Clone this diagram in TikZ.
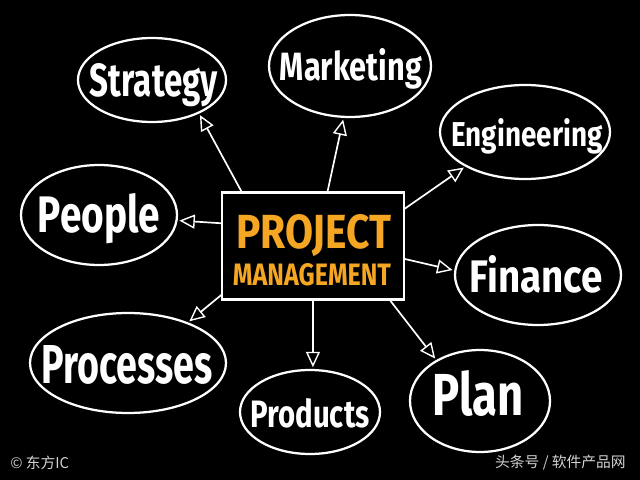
\documentclass[tikz,border=0pt]{standalone}
\usepackage{fontspec}
\usepackage{graphicx}
\usetikzlibrary{arrows.meta, shapes.geometric, positioning}
\newfontfamily\hand{Fira Sans}
\newfontfamily\cjk{Noto Sans CJK SC}
\definecolor{pmorange}{HTML}{F5A623}
\definecolor{markgray}{HTML}{D2D2D2}
\newlength\pxu
\setlength\pxu{0.025cm}
\newcommand\handword[3]{\resizebox{#1\pxu}{#2\pxu}{\hand\bfseries #3}}

\begin{document}
\begin{tikzpicture}[x=0.025cm, y=-0.025cm,
  bubble/.style={ellipse, draw=white, line width=1.6pt, inner sep=0pt, outer sep=0pt},
  word/.style={text=white, inner sep=0pt, anchor=base},
  arr/.style={white, line width=1.2pt, -{Triangle[open, length=11pt, width=10pt, line width=1pt]}, shorten >=2pt},
  watermark/.style={text=markgray, inner sep=0pt, font=\cjk\fontsize{10.5}{12}\selectfont}]
  \path[fill=black] (0,0) rectangle (640,480);

  \node[draw=white, line width=1.5pt, minimum width=182\pxu, minimum height=107\pxu, inner sep=0pt, outer sep=0pt] (pm) at (313,246) {};
  \node[word, text=pmorange] (pm-1) at (314,248) {\handword{155}{34}{PROJECT}};
  \node[word, text=pmorange] (pm-2) at (312,285) {\handword{158}{22}{MANAGEMENT}};

  \node[bubble, minimum width=148\pxu, minimum height=84\pxu] (strat) at (152,80) {};
  \node[bubble, minimum width=162\pxu, minimum height=102\pxu] (mkt) at (350,66) {};
  \node[bubble, minimum width=170\pxu, minimum height=94\pxu] (eng) at (525,132) {};
  \node[bubble, minimum width=156\pxu, minimum height=100\pxu] (ppl) at (99,215) {};
  \node[bubble, minimum width=166\pxu, minimum height=100\pxu] (fin) at (538,275) {};
  \node[bubble, minimum width=196\pxu, minimum height=100\pxu] (proc) at (128,363) {};
  \node[bubble, minimum width=140\pxu, minimum height=84\pxu] (prod) at (310,412) {};
  \node[bubble, minimum width=140\pxu, minimum height=102\pxu] (plan) at (480,401) {};

  \node[word] (strat-t) at (154,97) {\handword{128}{33}{Strategy}};
  \node[word] (mkt-t) at (351,80) {\handword{142}{32}{Marketing}};
  \node[word] (eng-t) at (527,146) {\handword{151}{28}{Engineering}};
  \node[word] (ppl-t) at (99,232) {\handword{122}{39}{People}};
  \node[word] (fin-t) at (536,292) {\handword{133}{37}{Finance}};
  \node[word] (proc-t) at (127,383) {\handword{171}{38}{Processes}};
  \node[word] (prod-t) at (310,427) {\handword{119}{29}{Products}};
  \node[word] (plan-t) at (478,415) {\handword{91}{45}{Plan}};

  \draw[arr] (pm.143.9) -- (strat.-35);
  \draw[arr] (pm.75.5) -- (mkt.-97);
  \draw[arr] (pm.22.4) -- (eng.-150);
  \draw[arr] (pm.166.9) -- (ppl.-4);
  \draw[arr] (pm.-8.7) -- (fin.177);
  \draw[arr] (pm.-152.4) -- (proc.34);
  \draw[arr] (pm.-90) -- (prod.86);
  \draw[arr] (pm.-35.6) -- (plan.137);

  \node[watermark, anchor=west] (mark-l) at (10,463) {© 东方IC};
  \node[watermark, anchor=east] (mark-r) at (626,463) {头条号 / 软件产品网};
\end{tikzpicture}
\end{document}
